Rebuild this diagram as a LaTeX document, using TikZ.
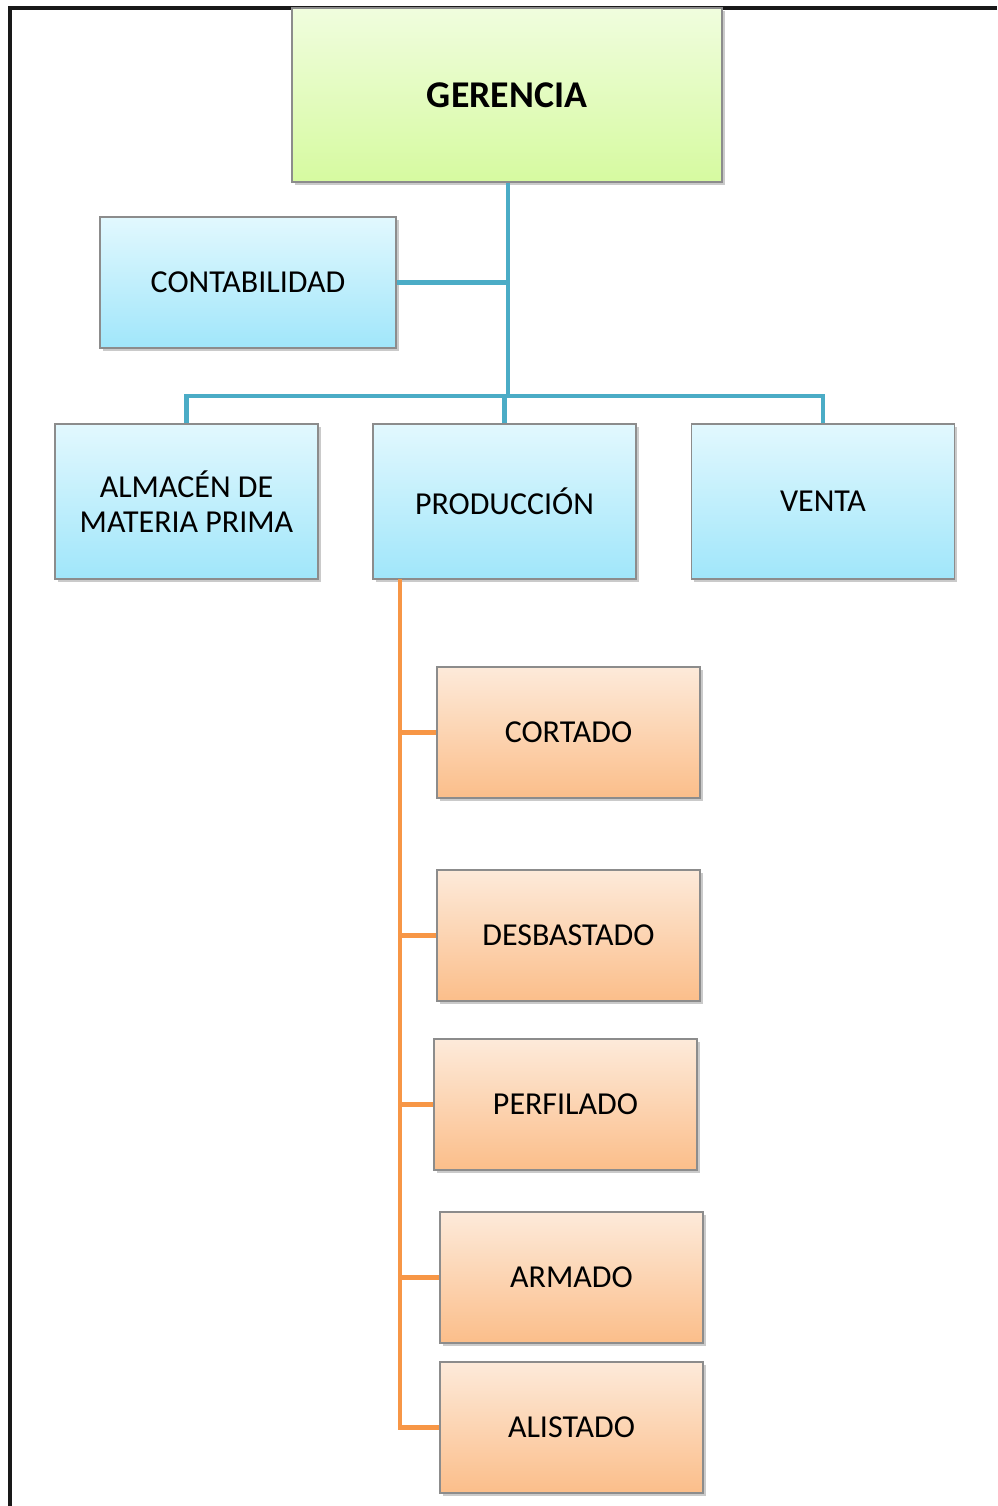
\documentclass[tikz,border=0pt]{standalone}
\usepackage{fontspec}
\setmainfont{Carlito}
\usepackage{xcolor}
\usetikzlibrary{shadows}

\definecolor{linkblue}{HTML}{4BACC6}
\definecolor{linkorange}{HTML}{F79646}
\definecolor{boxedge}{HTML}{8C8C8C}

\tikzset{
  unitbox/.style={rectangle, draw=boxedge, line width=0.6pt, inner sep=0pt,
    align=center, font=\fontsize{18.2}{19.8}\selectfont,
    drop shadow={shadow xshift=0.05cm, shadow yshift=-0.06cm, opacity=0.35, fill=black!60}},
  greenbox/.style={unitbox, top color={rgb,255:red,240;green,253;blue,222}, bottom color={rgb,255:red,214;green,250;blue,160},
    minimum width=8.6cm, minimum height=3.48cm},
  bluebox/.style={unitbox, top color={rgb,255:red,226;green,248;blue,254}, bottom color={rgb,255:red,160;green,230;blue,250},
    minimum width=5.26cm, minimum height=3.1cm},
  orangebox/.style={unitbox, top color={rgb,255:red,253;green,234;blue,218}, bottom color={rgb,255:red,251;green,190;blue,138},
    minimum width=5.26cm, minimum height=2.62cm},
  bluelink/.style={draw=linkblue, line width=2.8pt},
  orangelink/.style={draw=linkorange, line width=2.8pt}
}

\begin{document}
\begin{tikzpicture}
    \useasboundingbox (0,0) rectangle (19.94,-30.12);

    % Frame
    \draw[line width=2.2pt, black!90] (0.2,-30.12) -- (0.2,-0.16) -- (19.94,-0.16);

    % Junction points
    \coordinate (bus) at (10.16,-7.92);
    \coordinate (ptop) at (8.0,-11.58);

    % Top boxes
    \node[greenbox, font=\fontsize{21.5}{24}\selectfont\bfseries] (ger) at (10.14,-1.90) {GERENCIA};
    \node[bluebox, minimum width=5.92cm, minimum height=2.62cm] (cont) at (4.96,-5.65) {CONTABILIDAD};

    % Departments
    \node[bluebox] (alm) at (3.73,-10.03) {ALMACÉN DE\\MATERIA PRIMA};
    \node[bluebox] (prod) at (10.09,-10.03) {PRODUCCIÓN};
    \node[bluebox] (venta) at (16.46,-10.03) {VENTA};

    % Production steps
    \node[orangebox] (cort) at (11.37,-14.65) {CORTADO};
    \node[orangebox] (desb) at (11.37,-18.71) {DESBASTADO};
    \node[orangebox] (perf) at (11.31,-22.09) {PERFILADO};
    \node[orangebox] (arm) at (11.43,-25.55) {ARMADO};
    \node[orangebox] (alis) at (11.43,-28.55) {ALISTADO};

    % Connectors
    \draw[bluelink] (ger.south -| bus) -- (bus);
    \draw[bluelink] (cont.east) -- (cont.east -| bus);
    \draw[bluelink] (alm.north) |- (bus) -| (venta.north);
    \draw[bluelink] (prod.north) -- (prod.north |- bus);

    \draw[orangelink] (ptop) |- (alis.west);
    \foreach \s in {cort,desb,perf,arm}
        \draw[orangelink] (ptop |- \s.west) -- (\s.west);
\end{tikzpicture}
\end{document}
